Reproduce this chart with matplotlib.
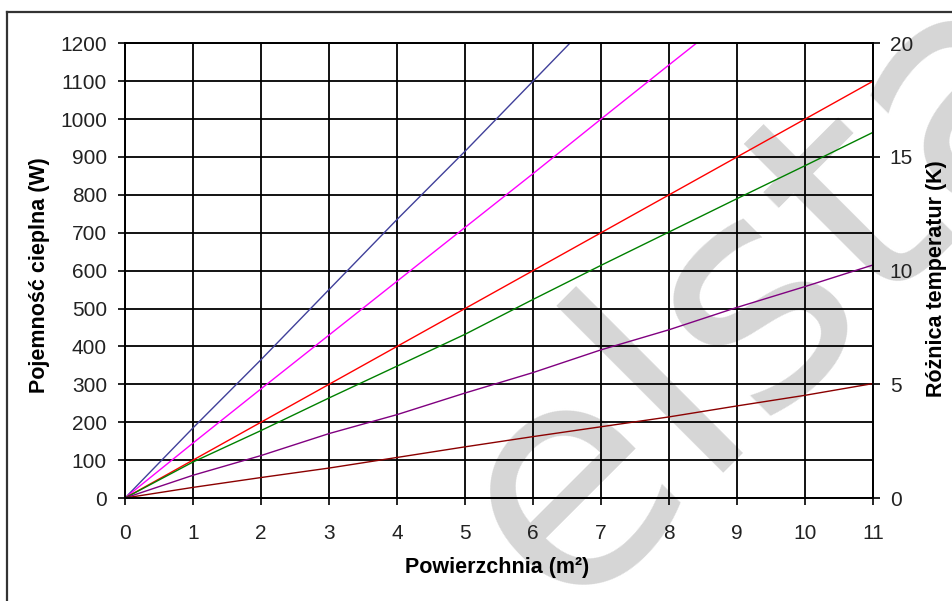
import matplotlib
matplotlib.use("Agg")
import matplotlib.pyplot as plt
from matplotlib.lines import Line2D

# ---- data ----
area = [0, 1, 2, 3, 4, 5, 6, 7, 8, 9, 10, 11]
blue_w = [0, 185, 365, 550, 735, 915, 1100, 1285]
magenta_w = [0, 145, 288, 430, 572, 714, 856, 1000, 1143, 1285]
red_w = [0, 100, 200, 300, 400, 500, 600, 700, 800, 900, 1000, 1100]
green_w = [0, 95, 178, 264, 348, 432, 524, 614, 702, 790, 877, 965]
purple_w = [0, 60, 112, 170, 220, 277, 331, 391, 444, 503, 558, 615]
brown_w = [0, 28, 54, 79, 107, 135, 162, 188, 214, 243, 271, 302]

series = [
    (blue_w, "#40409a"),
    (magenta_w, "#ff00ff"),
    (red_w, "#ff0000"),
    (green_w, "#008000"),
    (purple_w, "#800080"),
    (brown_w, "#8b0000"),
]

left_ticks = list(range(0, 1300, 100))
right_ticks = [0, 5, 10, 15, 20]
x_ticks = area

xlabel = "Powierzchnia (m²)"
ylabel_left = "Pojemność cieplna (W)"
ylabel_right = "Różnica temperatur (K)"
watermark = "elsta"

plt.rcParams["font.family"] = ["Liberation Sans", "DejaVu Sans"]

W, H = 953, 601
fig = plt.figure(figsize=(W / 100, H / 100), dpi=100)
fig.patch.set_facecolor("white")

L, R, T, B = 125, 873, 43.3, 498
ax = fig.add_axes([L / W, 1 - B / H, (R - L) / W, (B - T) / H])
ax.set_xlim(0, 11)
ax.set_ylim(0, 1200)
ax.set_xticks(x_ticks)
ax.set_yticks(left_ticks)
ax.grid(True, color="black", lw=1.3, zorder=1.5)
for s in ax.spines.values():
    s.set_color("black")
    s.set_linewidth(1.3)

for vals, col in series:
    ax.plot(area[:len(vals)], vals, color=col, lw=1.0, zorder=2)

ax.tick_params(axis="y", direction="out", length=5, width=1.2, labelsize=15,
               pad=8, colors="black", labelcolor="#222222")
ax.tick_params(axis="x", direction="out", length=5, width=1.2, labelsize=15,
               pad=14, colors="black", labelcolor="#222222")

ax2 = ax.twinx()
ax2.set_ylim(0, 20)
ax2.set_yticks(right_ticks)
ax2.tick_params(axis="y", direction="out", length=5, width=1.2, labelsize=15,
                pad=7, colors="black", labelcolor="#222222")
for s in ax2.spines.values():
    s.set_color("black")
    s.set_linewidth(1.3)

# watermark
ax.text(564 / W, 1 - 615 / H, watermark, transform=fig.transFigure,
        fontsize=223, family="DejaVu Sans", color="#d6d6d6",
        rotation=45, rotation_mode="anchor", ha="left", va="baseline",
        zorder=0.5, clip_on=False)

# axis labels
fig.text(497 / W, 1 - 568 / H, xlabel, ha="center", va="center",
         fontsize=15.5, fontweight="bold", color="black")
fig.text(40 / W, 1 - 275 / H, ylabel_left, ha="center", va="center",
         rotation=90, fontsize=15.5, fontweight="bold", color="black")
fig.text(937 / W, 1 - 279 / H, ylabel_right, ha="center", va="center",
         rotation=90, fontsize=15.5, fontweight="bold", color="black")

# outer frame (top and left edges visible)
fig.add_artist(Line2D([7.5 / W, 1.0], [1 - 12 / H, 1 - 12 / H],
                      transform=fig.transFigure, color="#333333", lw=1.6))
fig.add_artist(Line2D([7.5 / W, 7.5 / W], [0.0, 1 - 12 / H],
                      transform=fig.transFigure, color="#333333", lw=1.6))

fig.savefig("out.png", dpi=100)
